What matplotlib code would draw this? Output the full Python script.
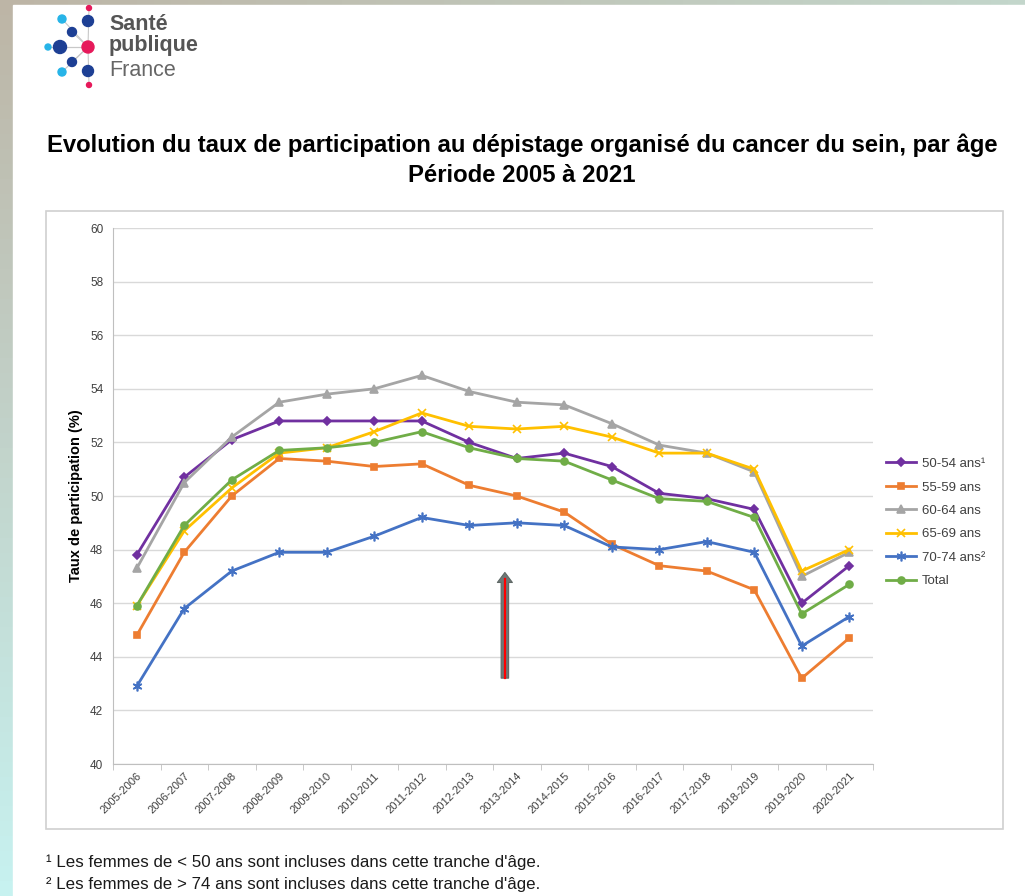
import numpy as np
import matplotlib.pyplot as plt
from matplotlib.patches import Rectangle, Circle, FancyArrowPatch
from matplotlib.colors import to_rgb

plt.rcParams['font.family'] = ['Liberation Sans', 'DejaVu Sans']

periodes = ['2005-2006', '2006-2007', '2007-2008', '2008-2009', '2009-2010',
            '2010-2011', '2011-2012', '2012-2013', '2013-2014', '2014-2015',
            '2015-2016', '2016-2017', '2017-2018', '2018-2019', '2019-2020',
            '2020-2021']

taux_50_54 = [47.8, 50.7, 52.1, 52.8, 52.8, 52.8, 52.8, 52.0, 51.4, 51.6, 51.1, 50.1, 49.9, 49.5, 46.0, 47.4]
taux_55_59 = [44.8, 47.9, 50.0, 51.4, 51.3, 51.1, 51.2, 50.4, 50.0, 49.4, 48.2, 47.4, 47.2, 46.5, 43.2, 44.7]
taux_60_64 = [47.3, 50.5, 52.2, 53.5, 53.8, 54.0, 54.5, 53.9, 53.5, 53.4, 52.7, 51.9, 51.6, 50.9, 47.0, 47.9]
taux_65_69 = [45.9, 48.7, 50.3, 51.6, 51.8, 52.4, 53.1, 52.6, 52.5, 52.6, 52.2, 51.6, 51.6, 51.0, 47.2, 48.0]
taux_70_74 = [42.9, 45.8, 47.2, 47.9, 47.9, 48.5, 49.2, 48.9, 49.0, 48.9, 48.1, 48.0, 48.3, 47.9, 44.4, 45.5]
taux_total = [45.9, 48.9, 50.6, 51.7, 51.8, 52.0, 52.4, 51.8, 51.4, 51.3, 50.6, 49.9, 49.8, 49.2, 45.6, 46.7]

series = [
    ('50-54 ans¹', taux_50_54, '#7030a0', 'D', 4),
    ('55-59 ans', taux_55_59, '#ed7d31', 's', 5),
    ('60-64 ans', taux_60_64, '#a5a5a5', '^', 5.5),
    ('65-69 ans', taux_65_69, '#ffc000', 'x', 6),
    ('70-74 ans²', taux_70_74, '#4472c4', (6, 2, 0), 7),
    ('Total', taux_total, '#70ad47', 'o', 5),
]

W, H = 1025, 896
fig = plt.figure(figsize=(W / 100, H / 100), dpi=100)

# fond (page + bord degradé)
bg = fig.add_axes([0, 0, 1, 1])
bg.set_xlim(0, W)
bg.set_ylim(H, 0)
bg.axis('off')
c_tl, c_tr, c_bl = np.array(to_rgb('#bdb5a6')), np.array(to_rgb('#c3d6cb')), np.array(to_rgb('#c7f2f0'))
gx = np.linspace(0, 1, 60)[None, :, None]
gy = np.linspace(0, 1, 60)[:, None, None]
grad = c_tl + (c_tr - c_tl) * gx + (c_bl - c_tl) * gy
bg.imshow(np.clip(grad, 0, 1), extent=[0, W, H, 0], aspect='auto', zorder=0)
bg.add_patch(Rectangle((13, 5), W - 13, H - 5, color='white', zorder=1))

# logo
for (x0, y0) in [(89, 8), (62, 19), (72, 32), (60, 47), (48, 47), (72, 62), (62, 72), (89, 85)]:
    bg.plot([88, x0], [47, y0], color='#c8c8c8', lw=0.8, zorder=2)
dots = [(89, 8, 2.5, '#e6195a'), (88, 21, 5.5, '#1d3f94'), (62, 19, 4, '#27b4e8'),
        (72, 32, 4.5, '#1d3f94'), (60, 47, 6.5, '#1d3f94'), (48, 47, 3, '#27b4e8'),
        (88, 47, 6, '#e6195a'), (72, 62, 4.5, '#1d3f94'), (62, 72, 4, '#27b4e8'),
        (88, 71, 5.5, '#1d3f94'), (89, 85, 2.5, '#e6195a')]
for x0, y0, r, c in dots:
    bg.add_patch(Circle((x0, y0), r, color=c, zorder=3))
bg.text(109, 24, 'Santé', fontsize=15.5, fontweight='bold', color='#555555', va='center', zorder=3)
bg.text(109, 46, 'publique', fontsize=15.5, fontweight='bold', color='#555555', va='center', zorder=3)
bg.text(109, 71, 'France', fontsize=15.5, color='#666666', va='center', zorder=3)

# titre
bg.text(522, 145, "Evolution du taux de participation au dépistage organisé du cancer du sein, par âge",
        fontsize=17.2, fontweight='bold', ha='center', va='center', color='black', zorder=3)
bg.text(522, 175, 'Période 2005 à 2021', fontsize=17.2, fontweight='bold',
        ha='center', va='center', color='black', zorder=3)

# cadre du graphique
bg.add_patch(Rectangle((46, 211), 957, 618, fill=False, edgecolor='#d0d0d0', lw=1.2, zorder=2))

# notes
bg.text(46, 862, "¹ Les femmes de < 50 ans sont incluses dans cette tranche d'âge.",
        fontsize=12.2, va='center', color='#1a1a1a', zorder=3)
bg.text(46, 885, "² Les femmes de > 74 ans sont incluses dans cette tranche d'âge.",
        fontsize=12.2, va='center', color='#1a1a1a', zorder=3)

# graphique
ax = fig.add_axes([113 / W, 1 - 764 / H, 760 / W, 536 / H])
ax.patch.set_alpha(0)
x = np.arange(len(periodes))
for label, vals, col, mk, ms in series:
    ax.plot(x, vals, color=col, lw=2, marker=mk, ms=ms, mec=col, mfc=col,
            mew=1.2, label=label, zorder=3)

ax.set_xlim(-0.5, len(periodes) - 0.5)
ax.set_ylim(40, 60)
ax.set_yticks(np.arange(40, 61, 2))
ax.tick_params(axis='y', length=0, labelsize=8.5, labelcolor='#404040', pad=7)
ax.yaxis.grid(True, color='#d9d9d9', lw=1)
ax.set_axisbelow(True)
ax.set_xticks(x)
ax.set_xticklabels(periodes, rotation=45, ha='right', rotation_mode='anchor',
                   fontsize=8, color='#404040')
ax.set_xticks(np.arange(-0.5, len(periodes)), minor=True)
ax.tick_params(axis='x', which='major', length=0, pad=5)
ax.tick_params(axis='x', which='minor', length=4, color='#bfbfbf')
for s in ['top', 'right']:
    ax.spines[s].set_visible(False)
for s in ['left', 'bottom']:
    ax.spines[s].set_color('#bfbfbf')
ax.set_ylabel('Taux de participation (%)', fontsize=10.5, fontweight='bold', labelpad=5)

# flèche
arrow = FancyArrowPatch((7.75, 43.1), (7.75, 47.25),
                        arrowstyle='simple,head_length=0.4,head_width=0.6,tail_width=0.3',
                        mutation_scale=18, fc='#6e7876', ec='#5f6866', lw=0.8, zorder=5)
ax.add_patch(arrow)
ax.plot([7.75, 7.75], [43.2, 46.9], color='#ff0000', lw=1.6, zorder=6)

leg = fig.legend(loc='upper left', bbox_to_anchor=(874 / W, 1 - 446 / H), frameon=False,
                 fontsize=9.5, handlelength=2.3, labelspacing=0.85, handletextpad=0.4)
for t in leg.get_texts():
    t.set_color('#404040')

fig.savefig('out.png', dpi=100)
